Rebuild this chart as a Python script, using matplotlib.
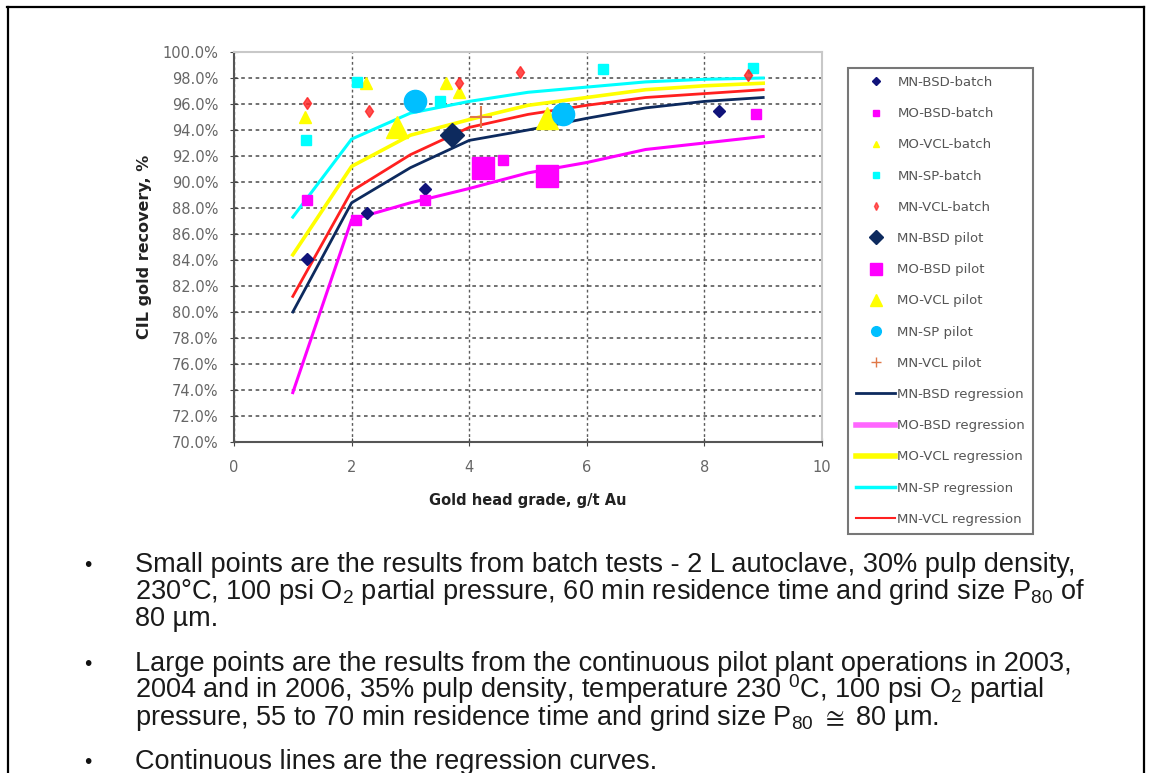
import matplotlib
matplotlib.use("Agg")
import matplotlib.pyplot as plt
from matplotlib.lines import Line2D

plt.rcParams['font.family'] = ['DejaVu Sans']
plt.rcParams['mathtext.fontset'] = 'custom'
plt.rcParams['mathtext.rm'] = 'Liberation Sans'
plt.rcParams['mathtext.it'] = 'Liberation Sans:italic'
plt.rcParams['mathtext.bf'] = 'Liberation Sans:bold'

# ---- batch tests (small points) ----
mn_bsd_batch_x = [1.24, 2.27, 3.25, 8.25]
mn_bsd_batch_y = [84.1, 87.6, 89.5, 95.5]
mo_bsd_batch_x = [1.24, 2.08, 3.25, 4.58, 8.88]
mo_bsd_batch_y = [88.6, 87.1, 88.6, 91.7, 95.2]
mo_vcl_batch_x = [1.21, 2.25, 3.60, 3.82]
mo_vcl_batch_y = [95.0, 97.6, 97.6, 96.9]
mn_sp_batch_x = [1.23, 2.10, 3.51, 6.27, 8.82]
mn_sp_batch_y = [93.2, 97.7, 96.2, 98.7, 98.8]
mn_vcl_batch_x = [1.24, 2.30, 3.82, 4.87, 8.74]
mn_vcl_batch_y = [96.1, 95.5, 97.6, 98.5, 98.2]

# ---- pilot plant (large points) ----
mn_bsd_pilot_x = [3.71]
mn_bsd_pilot_y = [93.6]
mo_bsd_pilot_x = [4.24, 5.33]
mo_bsd_pilot_y = [91.1, 90.5]
mo_vcl_pilot_x = [2.78, 5.33]
mo_vcl_pilot_y = [94.2, 94.9]
mn_sp_pilot_x = [3.08, 5.59]
mn_sp_pilot_y = [96.2, 95.2]
mn_vcl_pilot_x = [4.20]
mn_vcl_pilot_y = [95.0]

# ---- regression curves ----
reg_x = [1, 2, 3, 4, 5, 6, 7, 8, 9]
mn_bsd_reg = [80.0, 88.4, 91.1, 93.2, 94.0, 94.9, 95.7, 96.2, 96.5]
mo_bsd_reg = [73.8, 87.1, 88.4, 89.5, 90.7, 91.5, 92.5, 93.0, 93.5]
mo_vcl_reg = [84.4, 91.2, 93.6, 94.8, 95.9, 96.5, 97.1, 97.4, 97.6]
mn_sp_reg = [87.3, 93.3, 95.3, 96.2, 96.9, 97.3, 97.7, 97.9, 98.0]
mn_vcl_reg = [81.2, 89.3, 92.1, 94.2, 95.2, 95.9, 96.5, 96.8, 97.1]

y_ticks = list(range(70, 101, 2))
x_ticks = [0, 2, 4, 6, 8, 10]

NAVY = '#0d2a5e'
NAVY_PT = '#10137a'
MAG = '#ff00ff'
YEL = '#ffff00'
CYAN = '#00ffff'
RED = '#ff2020'
SKY = '#00bfff'
BROWN = '#e07848'

fig = plt.figure(figsize=(11.49, 7.73), dpi=100)
ax = fig.add_axes([234 / 1149, 1 - 442 / 773, 588 / 1149, 390 / 773])

# regression lines
ax.plot(reg_x, mo_bsd_reg, color=MAG, lw=2.2, zorder=2)
ax.plot(reg_x, mn_sp_reg, color=CYAN, lw=2.2, zorder=2)
ax.plot(reg_x, mo_vcl_reg, color=YEL, lw=2.6, zorder=2)
ax.plot(reg_x, mn_vcl_reg, color=RED, lw=2.0, zorder=2)
ax.plot(reg_x, mn_bsd_reg, color=NAVY, lw=2.0, zorder=2)

# batch points
ax.plot(mn_bsd_batch_x, mn_bsd_batch_y, 'D', color=NAVY_PT, ms=6, zorder=3)
ax.plot(mo_bsd_batch_x, mo_bsd_batch_y, 's', color=MAG, ms=7, zorder=3)
ax.plot(mo_vcl_batch_x, mo_vcl_batch_y, '^', color=YEL, ms=8, zorder=3)
ax.plot(mn_sp_batch_x, mn_sp_batch_y, 's', color=CYAN, ms=7, zorder=3)
ax.plot(mn_vcl_batch_x, mn_vcl_batch_y, 'd', color=RED, ms=6, alpha=0.8, zorder=3)

# pilot points
ax.plot(mn_bsd_pilot_x, mn_bsd_pilot_y, 'D', color=NAVY, ms=12, zorder=4)
ax.plot(mo_bsd_pilot_x, mo_bsd_pilot_y, 's', color=MAG, ms=16, zorder=4)
ax.plot(mo_vcl_pilot_x, mo_vcl_pilot_y, '^', color=YEL, ms=16, zorder=4)
ax.plot(mn_sp_pilot_x, mn_sp_pilot_y, 'o', color=SKY, ms=16, zorder=4)
ax.plot(mn_vcl_pilot_x, mn_vcl_pilot_y, '+', color=BROWN, ms=16, mew=1.5, zorder=4)

ax.set_xlim(0, 10)
ax.set_ylim(70, 100)
ax.set_xticks(x_ticks)
ax.set_yticks(y_ticks)
ax.set_yticklabels(['%.1f%%' % v for v in y_ticks])
ax.tick_params(axis='both', colors='#444444', labelcolor='#666666', labelsize=10.5,
               direction='inout', length=6)
ax.tick_params(axis='x', pad=10)
ax.tick_params(axis='y', pad=8)

ax.grid(axis='y', color='#333333', ls=(0, (2, 2)), lw=1.3, alpha=0.75)
ax.grid(axis='x', color='#333333', ls=(0, (2, 2)), lw=1.0, alpha=0.8)
for s in ['top', 'right']:
    ax.spines[s].set_color('#c8c8c8')
    ax.spines[s].set_linewidth(1.5)
for s in ['left', 'bottom']:
    ax.spines[s].set_color('#555555')
    ax.spines[s].set_linewidth(1.5)

ax.set_xlabel('Gold head grade, g/t Au', fontsize=10.5, fontweight='bold', color='#222222', labelpad=13)
ax.set_ylabel('CIL gold recovery, %', fontsize=11.5, fontweight='bold', color='#222222', labelpad=8)

# legend
handles = [
    Line2D([], [], ls='', marker='D', color=NAVY_PT, ms=4),
    Line2D([], [], ls='', marker='s', color=MAG, ms=5),
    Line2D([], [], ls='', marker='^', color=YEL, ms=5),
    Line2D([], [], ls='', marker='s', color=CYAN, ms=4),
    Line2D([], [], ls='', marker='d', color=RED, ms=4, alpha=0.7),
    Line2D([], [], ls='', marker='D', color=NAVY, ms=7),
    Line2D([], [], ls='', marker='s', color=MAG, ms=8),
    Line2D([], [], ls='', marker='^', color=YEL, ms=9),
    Line2D([], [], ls='', marker='o', color=SKY, ms=7),
    Line2D([], [], ls='', marker='+', color=BROWN, ms=7),
    Line2D([], [], color=NAVY, lw=2),
    Line2D([], [], color='#ff66ff', lw=4),
    Line2D([], [], color=YEL, lw=4),
    Line2D([], [], color=CYAN, lw=2.5),
    Line2D([], [], color=RED, lw=1.5),
]
labels = ['MN-BSD-batch', 'MO-BSD-batch', 'MO-VCL-batch', 'MN-SP-batch', 'MN-VCL-batch',
          'MN-BSD pilot', 'MO-BSD pilot', 'MO-VCL pilot', 'MN-SP pilot', 'MN-VCL pilot',
          'MN-BSD regression', 'MO-BSD regression', 'MO-VCL regression', 'MN-SP regression',
          'MN-VCL regression']
leg = fig.legend(handles, labels, loc='upper left', bbox_to_anchor=(848 / 1149, 1 - 68 / 773),
                 fontsize=9.5, labelspacing=1.38, handlelength=3.0, handletextpad=0.15,
                 borderpad=0.6, borderaxespad=0, fancybox=False, framealpha=1)
leg.get_frame().set_edgecolor('#777777')
leg.get_frame().set_linewidth(1.5)
for t in leg.get_texts():
    t.set_color('#555555')

# page frame
fig.add_artist(Line2D([7 / 1149, 1144 / 1149], [1 - 6.5 / 773, 1 - 6.5 / 773], color='black', lw=1.6))
fig.add_artist(Line2D([7.5 / 1149, 7.5 / 1149], [0, 1 - 6.5 / 773], color='black', lw=1.6))
fig.add_artist(Line2D([1144 / 1149, 1144 / 1149], [0, 1 - 6.5 / 773], color='black', lw=1.6))

# notes under the chart (y = baseline in pixels from the top)
notes = [
    (572, True, 'Small points are the results from batch tests - 2 L autoclave, 30% pulp density,'),
    (599, False, r'230°C, 100 psi O$_\mathrm{2}$ partial pressure, 60 min residence time and grind size P$_\mathrm{80}$ of'),
    (626, False, '80 µm.'),
    (671, True, 'Large points are the results from the continuous pilot plant operations in 2003,'),
    (698, False, r'2004 and in 2006, 35% pulp density, temperature 230 $^\mathrm{0}$C, 100 psi O$_\mathrm{2}$ partial'),
    (725, False, r'pressure, 55 to 70 min residence time and grind size P$_\mathrm{80}$ $\cong$ 80 µm.'),
    (769, True, 'Continuous lines are the regression curves.'),
]
for y, bullet, txt in notes:
    if bullet:
        fig.text(84 / 1149, 1 - (y - 1) / 773, '•', fontsize=15, color='#111111', va='baseline',
                 family=['Liberation Sans', 'DejaVu Sans'])
    fig.text(135 / 1149, 1 - y / 773, txt, fontsize=19.5, color='#1a1a1a', va='baseline',
             family=['Liberation Sans', 'DejaVu Sans'])

fig.savefig('out.png', dpi=100)
